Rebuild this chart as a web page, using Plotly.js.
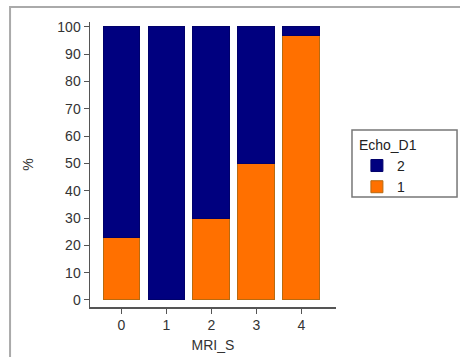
<!DOCTYPE html>
<html><head><meta charset="utf-8">
<script src="https://cdn.plot.ly/plotly-3.0.1.min.js"></script>
<style>body{margin:0;background:#fff}#c{width:460px;height:357px}</style>
</head><body><div id="c"></div>
<script>
var categories = ['0','1','2','3','4'];
var pct1 = [22.7, 0, 30, 50, 97];
var pct2 = [77.3, 100, 70, 50, 3];
var yTicks = [0,10,20,30,40,50,60,70,80,90,100];

var traces = [
  {type:'bar', x:categories, y:pct1, name:'1',
   marker:{color:'#ff7000', line:{color:'#b86a10', width:1}}},
  {type:'bar', x:categories, y:pct2, name:'2',
   marker:{color:'#00007f', line:{color:'#00006a', width:1}}}
];
var fam = 'Liberation Sans, Arial, sans-serif';
var layout = {
  width:460, height:357,
  margin:{l:90, r:124, t:22, b:50},
  paper_bgcolor:'#fff', plot_bgcolor:'#fff',
  barmode:'stack', bargap:0.18,
  font:{family:fam, size:14, color:'#333'},
  showlegend:true,
  legend:{x:1.085, y:0.615, xanchor:'left', yanchor:'top',
    traceorder:'reversed', borderwidth:0,
    bgcolor:'rgba(0,0,0,0)', font:{family:fam, size:14, color:'#222'},
    title:{text:'Echo_D1', font:{family:fam, size:14, color:'#222'}},
    itemwidth:30, tracegroupgap:0},
  xaxis:{type:'category', range:[-0.7,4.77], showgrid:false, zeroline:false,
    showline:true, linecolor:'#555', linewidth:1.5,
    ticks:'outside', ticklen:5, tickcolor:'#555',
    tickfont:{family:fam, size:14, color:'#333'},
    title:{text:'MRI_S', standoff:8, font:{family:fam, size:14, color:'#333'}}},
  yaxis:{range:[-2.6,101.8], tickvals:yTicks, ticktext:yTicks.map(String),
    showgrid:false, zeroline:false,
    showline:true, linecolor:'#555', linewidth:1.5,
    ticks:'outside', ticklen:5, tickcolor:'#555',
    tickfont:{family:fam, size:14, color:'#333'},
    title:{text:'%', standoff:20, font:{family:fam, size:14, color:'#333'}}},
  shapes:[
    {type:'rect', xref:'paper', yref:'paper',
     x0:-0.325, x1:1.545, y0:-0.25, y1:1.0526,
     line:{color:'#aaa', width:2}, fillcolor:'rgba(0,0,0,0)'},
    {type:'rect', xref:'paper', yref:'paper',
     x0:1.065, x1:1.492, y0:0.386, y1:0.621,
     line:{color:'#777', width:1.5}, fillcolor:'rgba(0,0,0,0)'}
  ]
};
Plotly.newPlot('c', traces, layout, {displayModeBar:false, staticPlot:true});
</script></body></html>
